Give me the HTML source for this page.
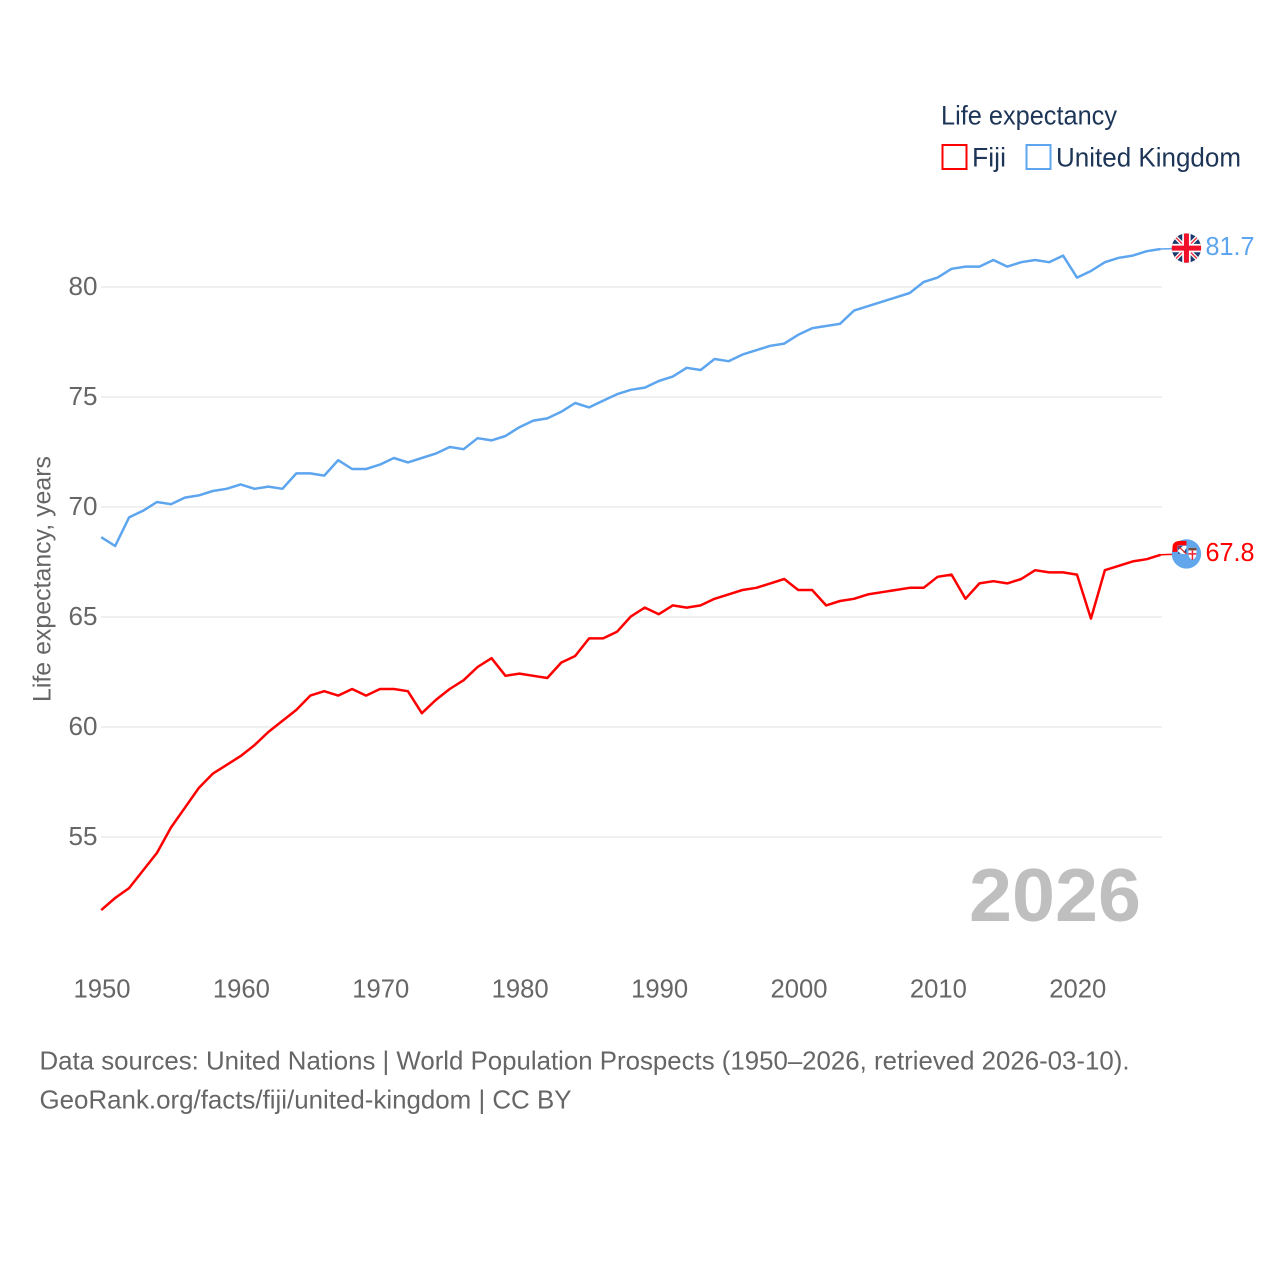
<!DOCTYPE html>
<html lang="en">
<head>
<meta charset="utf-8">
<title>Life expectancy: Fiji and United Kingdom</title>
<style>
html,body{margin:0;padding:0;background:#fff;}
svg{display:block;font-family:"Liberation Sans",sans-serif;}
</style>
</head>
<body>
<svg id="chart" xmlns="http://www.w3.org/2000/svg" width="1280" height="1280" viewBox="0 0 1280 1280">
  <rect x="0" y="0" width="1280" height="1280" fill="#ffffff"/>
  <g id="grid"></g>
  <g id="yticks"></g>
  <g id="xticks"></g>
  <text transform="translate(50.5,702) rotate(-90)" font-size="25" fill="#666666" textLength="246" lengthAdjust="spacingAndGlyphs">Life expectancy, years</text>
  <text x="969" y="921" font-size="75" font-weight="700" fill="#bfbfbf" textLength="172" lengthAdjust="spacingAndGlyphs">2026</text>
  <g id="series" transform="translate(0,-0.6)"></g>
  <g id="endmarks"></g>

  <g>
    <text x="941" y="124.5" font-size="27" fill="#1d3557" textLength="176" lengthAdjust="spacingAndGlyphs">Life expectancy</text>
    <g>
      <rect x="942.5" y="145" width="24" height="24" fill="#ffffff" stroke="#ff0000" stroke-width="2"/>
      <text x="972" y="166.5" font-size="27" fill="#1d3557" textLength="34" lengthAdjust="spacingAndGlyphs">Fiji</text>
    </g>
    <g>
      <rect x="1026.5" y="145" width="24" height="24" fill="#ffffff" stroke="#5da5ee" stroke-width="2"/>
      <text x="1056" y="166.5" font-size="27" fill="#1d3557" textLength="185" lengthAdjust="spacingAndGlyphs">United Kingdom</text>
    </g>
  </g>

  <text x="39.5" y="1069.5" font-size="26" fill="#666666" textLength="1090" lengthAdjust="spacingAndGlyphs">Data sources: United Nations | World Population Prospects (1950–2026, retrieved 2026-03-10).</text>
  <text x="39.5" y="1108.5" font-size="26" fill="#666666" textLength="532" lengthAdjust="spacingAndGlyphs">GeoRank.org/facts/fiji/united-kingdom | CC BY</text>
</svg>

<script>
const startYear = 1950;
const yTickValues = [55, 60, 65, 70, 75, 80];
const xTickValues = [1950, 1960, 1970, 1980, 1990, 2000, 2010, 2020];
const fijiValues = [
  51.65, 52.2, 52.65, 53.45, 54.25, 55.4, 56.3, 57.2, 57.85, 58.25,
  58.65, 59.15, 59.75, 60.25, 60.75, 61.4, 61.6, 61.4, 61.7, 61.4,
  61.7, 61.7, 61.6, 60.6, 61.2, 61.7, 62.1, 62.7, 63.1, 62.3,
  62.4, 62.3, 62.2, 62.9, 63.2, 64.0, 64.0, 64.3, 65.0, 65.4,
  65.1, 65.5, 65.4, 65.5, 65.8, 66.0, 66.2, 66.3, 66.5, 66.7,
  66.2, 66.2, 65.5, 65.7, 65.8, 66.0, 66.1, 66.2, 66.3, 66.3,
  66.8, 66.9, 65.8, 66.5, 66.6, 66.5, 66.7, 67.1, 67.0, 67.0,
  66.9, 64.9, 67.1, 67.3, 67.5, 67.6, 67.8
];
const ukValues = [
  68.6, 68.2, 69.5, 69.8, 70.2, 70.1, 70.4, 70.5, 70.7, 70.8,
  71.0, 70.8, 70.9, 70.8, 71.5, 71.5, 71.4, 72.1, 71.7, 71.7,
  71.9, 72.2, 72.0, 72.2, 72.4, 72.7, 72.6, 73.1, 73.0, 73.2,
  73.6, 73.9, 74.0, 74.3, 74.7, 74.5, 74.8, 75.1, 75.3, 75.4,
  75.7, 75.9, 76.3, 76.2, 76.7, 76.6, 76.9, 77.1, 77.3, 77.4,
  77.8, 78.1, 78.2, 78.3, 78.9, 79.1, 79.3, 79.5, 79.7, 80.2,
  80.4, 80.8, 80.9, 80.9, 81.2, 80.9, 81.1, 81.2, 81.1, 81.4,
  80.4, 80.7, 81.1, 81.3, 81.4, 81.6, 81.7
];

const NS = 'http://www.w3.org/2000/svg';
const xScale = function (year) { return 101.2 + (year - 1950) * 13.94; };
const yScale = function (value) { return 507 - (value - 70) * 22; };
const plotRight = 1162;

function make(tag, attrs, parent) {
  const el = document.createElementNS(NS, tag);
  Object.keys(attrs).forEach(function (k) { el.setAttribute(k, attrs[k]); });
  parent.appendChild(el);
  return el;
}

const gridGroup = document.getElementById('grid');
const yTickGroup = document.getElementById('yticks');
const xTickGroup = document.getElementById('xticks');
const seriesGroup = document.getElementById('series');
const endGroup = document.getElementById('endmarks');

yTickValues.forEach(function (v) {
  const line = make('line', {x1: 101, x2: plotRight, y1: yScale(v), y2: yScale(v), stroke: '#ececec', 'stroke-width': 1.5}, gridGroup);
  
  
  const label = make('text', {x: 97.5, y: yScale(v) + 8, 'text-anchor': 'end', 'font-size': 25.5, fill: '#666666', textLength: 29, lengthAdjust: 'spacingAndGlyphs'}, yTickGroup);
  
  
  label.textContent = String(v);
});

xTickValues.forEach(function (yr) {
  const label = make('text', {x: xScale(yr) - 27.7, y: 997.5, 'font-size': 25.5, fill: '#666666', textLength: 57, lengthAdjust: 'spacingAndGlyphs'}, xTickGroup);
  
  
  label.textContent = String(yr);
});

function pathFor(values) {
  return values.map(function (v, i) {
    return (i ? 'L' : 'M') + xScale(startYear + i).toFixed(2) + ' ' + yScale(v).toFixed(2);
  }).join(' ');
}

const ukLine = make('path', {d: pathFor(ukValues), fill: 'none', stroke: '#5da5ee', 'stroke-width': 2.5, 'stroke-linejoin': 'round'}, seriesGroup);


const fijiLine = make('path', {d: pathFor(fijiValues), fill: 'none', stroke: '#ff0000', 'stroke-width': 2.5, 'stroke-linejoin': 'round'}, seriesGroup);



function lastYear(values) { return startYear + values.length - 1; }
const bubbleX = xScale(lastYear(ukValues)) + 25.8;

// connector lines from last point to flag bubble
const ukConnector = make('line', {x1: xScale(lastYear(ukValues)), x2: bubbleX, y1: yScale(ukValues[ukValues.length - 1]) - 0.6, y2: yScale(ukValues[ukValues.length - 1]) - 1.5, stroke: '#5da5ee', 'stroke-width': 1.5}, endGroup);


const fijiConnector = make('line', {x1: xScale(lastYear(fijiValues)), x2: bubbleX, y1: yScale(fijiValues[fijiValues.length - 1]) - 0.6, y2: yScale(fijiValues[fijiValues.length - 1]) - 1.5, stroke: '#ff0000', 'stroke-width': 1.5}, endGroup);



// UK flag bubble (clip circle lives in the flag group's translated space)
const ukY = yScale(ukValues[ukValues.length - 1]) - 1.5;
const ukClip = make('clipPath', {id: 'uk-clip'}, endGroup);
make('circle', {cx: 0, cy: 0, r: 14.7}, ukClip);
const ukFlag = make('g', {'clip-path': 'url(#uk-clip)', transform: 'translate(' + bubbleX + ' ' + ukY + ')'}, endGroup);


make('rect', {x: -15, y: -15, width: 30, height: 30, fill: '#1a3a6e'}, ukFlag);
make('path', {d: 'M-15 -15L15 15M15 -15L-15 15', stroke: '#ffffff', 'stroke-width': 4}, ukFlag);
make('path', {d: 'M-15 -15L15 15M15 -15L-15 15', stroke: '#f0303f', 'stroke-width': 1.4}, ukFlag);
make('path', {d: 'M0 -15V15M-15 0H15', stroke: '#ffffff', 'stroke-width': 8.4}, ukFlag);
make('path', {d: 'M0 -15V15M-15 0H15', stroke: '#f0102a', 'stroke-width': 5}, ukFlag);

// Fiji flag bubble
const fjY = yScale(fijiValues[fijiValues.length - 1]) - 1.5;
const fjFlag = make('g', {transform: 'translate(' + bubbleX + ' ' + fjY + ')'}, endGroup);


make('circle', {cx: 0, cy: 0, r: 14.7, fill: '#62a7ec'}, fjFlag);
make('path', {d: 'M-14 -2V-6Q-14 -13 -6 -13H0V-8.5H-9V-2Z', fill: '#ff0000'}, fjFlag);
make('rect', {x: -8.5, y: -8, width: 8.5, height: 8, fill: '#ffffff'}, fjFlag);
make('path', {d: 'M-8.5 -8H-3.5L-8.5 -3.5ZM-8.5 0V-2.5L-5.5 0ZM0 -6V-1H-3Z', fill: '#1f4f9c'}, fjFlag);
make('path', {d: 'M-8.5 -8L0 0', stroke: '#d22', 'stroke-width': 1.2}, fjFlag);
make('path', {d: 'M2 -6H10V0Q10 4 6 6Q2 4 2 0Z', fill: '#ffffff'}, fjFlag);
make('rect', {x: 2, y: -6, width: 8, height: 2.5, fill: '#7a4a3a'}, fjFlag);
make('path', {d: 'M6 -3.5V6M2 0H10', stroke: '#ee2233', 'stroke-width': 1.5}, fjFlag);

// end value labels
const ukEnd = make('text', {x: 1205.5, y: yScale(ukValues[ukValues.length - 1]) + 5.5, 'font-size': 25.5, fill: '#5da5ee', textLength: 49, lengthAdjust: 'spacingAndGlyphs'}, endGroup);


ukEnd.textContent = ukValues[ukValues.length - 1].toFixed(1);
const fjEnd = make('text', {x: 1205.5, y: yScale(fijiValues[fijiValues.length - 1]) + 5.5, 'font-size': 25.5, fill: '#ff0000', textLength: 49, lengthAdjust: 'spacingAndGlyphs'}, endGroup);


fjEnd.textContent = fijiValues[fijiValues.length - 1].toFixed(1);
</script>
</body>
</html>
